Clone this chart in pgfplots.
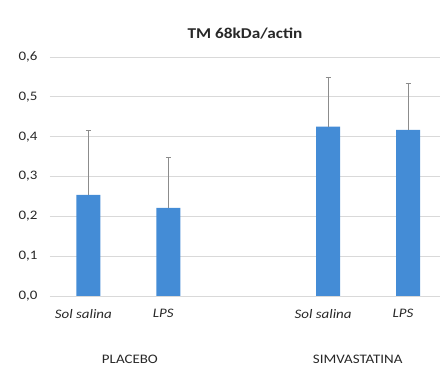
\documentclass[border=0pt]{standalone}
\usepackage{fontspec}
\setmainfont{Carlito}[FakeStretch=1.15]
\usepackage{pgfplots}
\pgfplotsset{compat=1.18}
\definecolor{barblue}{RGB}{68,140,214}
\definecolor{gridgray}{RGB}{217,217,217}
\definecolor{errgray}{RGB}{140,140,140}
\definecolor{txt}{RGB}{40,40,40}
\begin{document}
\begin{tikzpicture}
\begin{axis}[
  scale only axis,
  width=390pt, height=239pt,
  xmin=-0.48, xmax=4.4,
  ymin=0, ymax=0.6,
  ytick={0,0.1,...,0.6},
  yticklabel style={xshift=-9pt, /pgf/number format/.cd, fixed, fixed zerofill, precision=1, use comma},
  /pgf/number format/assume math mode=true,
  tick label style={font=\fontsize{13}{15}\selectfont, text=txt},
  xtick={0,1,3,4},
  xticklabels={\textit{Sol salina},\textit{LPS},\textit{Sol salina},\textit{LPS}},
  xticklabel style={yshift=-10pt, xshift=-5pt},
  major tick length=0pt,
  ymajorgrids, grid style={gridgray, line width=0.8pt},
  axis line style={draw=none},
  axis x line*=bottom,
  axis y line*=left,
  title={\bfseries TM 68kDa/actin},
  title style={font=\fontsize{15}{17}\selectfont, yshift=8pt, text=txt},
  clip=false,
]
\addplot[ybar, bar width=24pt, fill=barblue, draw=none,
  error bars/.cd, y dir=plus, y explicit,
  error bar style={errgray, line width=0.7pt},
  error mark options={errgray, line width=0.7pt, mark size=2.5pt, rotate=90}]
  coordinates {
  (0,0.254) +- (0,0.162)
  (1,0.221) +- (0,0.126)
  (3,0.425) +- (0,0.125)
  (4,0.417) +- (0,0.118)
  };
\draw[gridgray, line width=0.8pt] (axis cs:-0.48,0) -- (axis cs:4.4,0);
\node[font=\fontsize{13}{15}\selectfont, text=txt, anchor=center] at ([yshift=-63pt]axis cs:0.52,0) {PLACEBO};
\node[font=\fontsize{13}{15}\selectfont, text=txt, anchor=center] at ([yshift=-63pt]axis cs:3.37,0) {SIMVASTATINA};
\end{axis}
\pgfresetboundingbox
\path[use as bounding box] ([xshift=-50pt,yshift=-81pt]current axis.south west) rectangle ([xshift=7pt,yshift=57pt]current axis.north east);
\end{tikzpicture}
\end{document}
